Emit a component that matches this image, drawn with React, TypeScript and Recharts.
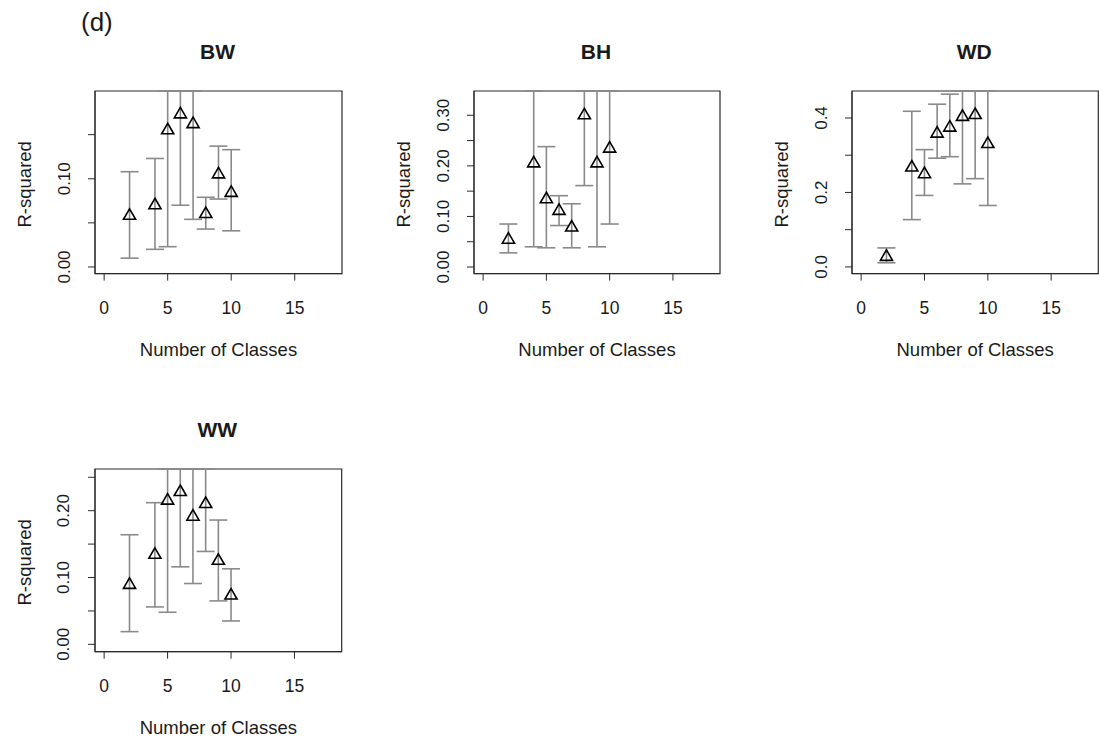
import React from 'react';
import { ScatterChart, Scatter, XAxis, YAxis, ErrorBar, ReferenceArea } from 'recharts';

// ---------- data ----------
const classes = [2, 4, 5, 6, 7, 8, 9, 10];

const bwEst = [0.058, 0.07, 0.155, 0.173, 0.162, 0.06, 0.105, 0.084];
const bwLo = [0.01, 0.02, 0.023, 0.07, 0.054, 0.043, 0.077, 0.041];
const bwHi = [0.108, 0.123, 0.29, 0.28, 0.27, 0.079, 0.137, 0.133];

const bhEst = [0.054, 0.205, 0.134, 0.111, 0.078, 0.3, 0.205, 0.234];
const bhLo = [0.028, 0.04, 0.038, 0.082, 0.038, 0.161, 0.04, 0.085];
const bhHi = [0.085, 0.38, 0.238, 0.141, 0.125, 0.45, 0.38, 0.39];

const wdEst = [0.027, 0.267, 0.249, 0.358, 0.374, 0.403, 0.408, 0.33];
const wdLo = [0.011, 0.127, 0.192, 0.292, 0.296, 0.223, 0.237, 0.165];
const wdHi = [0.051, 0.418, 0.315, 0.437, 0.464, 0.59, 0.59, 0.5];

const wwEst = [0.089, 0.134, 0.215, 0.228, 0.191, 0.21, 0.125, 0.073];
const wwLo = [0.019, 0.056, 0.048, 0.116, 0.091, 0.139, 0.065, 0.035];
const wwHi = [0.164, 0.212, 0.39, 0.34, 0.3, 0.29, 0.186, 0.113];

// ---------- ticks ----------
const xTicks = [0, 5, 10, 15];
const xDomain = [-0.72, 18.72];

const bwTicks = [0, 0.05, 0.1, 0.15];
const bwTickLabels = [0, 0.1];
const bhTicks = [0, 0.05, 0.1, 0.15, 0.2, 0.25, 0.3];
const bhTickLabels = [0, 0.1, 0.2, 0.3];
const wdTicks = [0, 0.1, 0.2, 0.3, 0.4];
const wdTickLabels = [0, 0.2, 0.4];
const wwTicks = [0, 0.05, 0.1, 0.15, 0.2, 0.25];
const wwTickLabels = [0, 0.1, 0.2];

// ---------- style ----------
const FONT = '"Liberation Sans", Arial, Helvetica, sans-serif';
const TEXT = '#1a1a1a';
const BAR = '#8a8a8a';
const FRAME = '#2a2a2a';
const LEFTW = 95;
const TOPH = 60;
const BOTH = 88;

type Box = { l: number; t: number; r: number; b: number };
type PanelDef = {
  title: string;
  est: number[];
  lo: number[];
  hi: number[];
  yDomain: number[];
  yTicks: number[];
  yTickLabels: number[];
  digits: number;
  box: Box;
  padR: number;
};

const panels: PanelDef[] = [
  { title: 'BW', est: bwEst, lo: bwLo, hi: bwHi, yDomain: [-0.0075, 0.1995], yTicks: bwTicks, yTickLabels: bwTickLabels, digits: 2, box: { l: 95, t: 90.7, r: 342, b: 273.3 }, padR: 10 },
  { title: 'BH', est: bhEst, lo: bhLo, hi: bhHi, yDomain: [-0.013, 0.348], yTicks: bhTicks, yTickLabels: bhTickLabels, digits: 2, box: { l: 474, t: 90.7, r: 720, b: 273.3 }, padR: 10 },
  { title: 'WD', est: wdEst, lo: wdLo, hi: wdHi, yDomain: [-0.018, 0.4725], yTicks: wdTicks, yTickLabels: wdTickLabels, digits: 1, box: { l: 851.7, t: 90.7, r: 1098, b: 273.3 }, padR: 1 },
  { title: 'WW', est: wwEst, lo: wwLo, hi: wwHi, yDomain: [-0.011, 0.2624], yTicks: wwTicks, yTickLabels: wwTickLabels, digits: 2, box: { l: 95, t: 469, r: 341.7, b: 651.7 }, padR: 10 },
];

const Triangle = (props: any) => {
  const { cx, cy } = props;
  if (cx == null || cy == null) return null;
  const r = 7;
  const hw = r * 0.866;
  return (
    <path
      d={`M${cx},${cy - r}L${cx + hw},${cy + r / 2}L${cx - hw},${cy + r / 2}Z`}
      fill="none"
      stroke="#000"
      strokeWidth={1.6}
    />
  );
};

const makeYTick = (labels: number[], digits: number) => (props: any) => {
  const { x, y, payload } = props;
  const v = payload.value as number;
  if (!labels.some((l) => Math.abs(l - v) < 1e-9)) return <g />;
  return (
    <text
      transform={`translate(${x - 22},${y}) rotate(-90)`}
      textAnchor="middle"
      dominantBaseline="central"
      fontFamily={FONT}
      fontSize={17}
      fill={TEXT}
    >
      {v.toFixed(digits)}
    </text>
  );
};

const XTick = (props: any) => {
  const { x, y, payload } = props;
  return (
    <text x={x} y={y + 25} textAnchor="middle" dominantBaseline="central" fontFamily={FONT} fontSize={17.5} fill={TEXT}>
      {payload.value}
    </text>
  );
};

const Panel = ({ p }: { p: PanelDef }) => {
  const pw = p.box.r - p.box.l;
  const ph = p.box.b - p.box.t;
  const W = LEFTW + pw + p.padR;
  const H = TOPH + ph + BOTH;
  const yTop = p.yDomain[1];
  const data = classes.map((k, i) => ({ k, est: p.est[i], lo: p.lo[i], hi: p.hi[i] }));
  // upper whisker is clipped at the top of the plot region (as in the original figure)
  const errKey = (d: any) => [d.est - d.lo, Math.min(d.hi, yTop) - d.est];
  return (
    <div style={{ position: 'absolute', left: p.box.l - LEFTW, top: p.box.t - TOPH, width: W, height: H }}>
      <ScatterChart width={W} height={H} margin={{ top: TOPH, right: p.padR, bottom: 0, left: 0 }}>
        <XAxis
          xAxisId="b"
          type="number"
          dataKey="k"
          domain={xDomain}
          allowDataOverflow
          ticks={xTicks}
          height={BOTH}
          tickSize={7}
          tick={XTick}
          axisLine={{ stroke: FRAME }}
          tickLine={{ stroke: FRAME }}
        />
        <YAxis
          yAxisId="l"
          type="number"
          dataKey="est"
          domain={p.yDomain}
          allowDataOverflow
          ticks={p.yTicks}
          width={LEFTW}
          tickSize={7}
          tick={makeYTick(p.yTickLabels, p.digits)}
          axisLine={{ stroke: FRAME }}
          tickLine={{ stroke: FRAME }}
        />
        <ReferenceArea
          xAxisId="b"
          yAxisId="l"
          x1={xDomain[0]}
          x2={xDomain[1]}
          y1={p.yDomain[0]}
          y2={p.yDomain[1]}
          fill="none"
          fillOpacity={0}
          stroke={FRAME}
          strokeWidth={1.2}
          ifOverflow="visible"
        />
        <Scatter xAxisId="b" yAxisId="l" data={data} dataKey="est" shape={Triangle} isAnimationActive={false}>
          <ErrorBar dataKey={errKey} direction="y" width={9} stroke={BAR} strokeWidth={1.6} isAnimationActive={false} />
        </Scatter>
      </ScatterChart>
      <svg width={W} height={H} style={{ position: 'absolute', left: 0, top: 0, pointerEvents: 'none' }}>
        <text x={LEFTW + pw / 2 - 1} y={TOPH - 40} textAnchor="middle" dominantBaseline="central" fontFamily={FONT} fontWeight="bold" fontSize={21} fill={TEXT}>
          {p.title}
        </text>
        <text x={LEFTW + pw / 2} y={TOPH + ph + 76} textAnchor="middle" dominantBaseline="central" fontFamily={FONT} fontSize={18.5} fill={TEXT}>
          Number of Classes
        </text>
        <text
          transform={`translate(${LEFTW - 70.5},${TOPH + ph / 2 + 2}) rotate(-90)`}
          textAnchor="middle"
          dominantBaseline="central"
          fontFamily={FONT}
          fontSize={18.5}
          fill={TEXT}
        >
          R-squared
        </text>
      </svg>
    </div>
  );
};

export default function App() {
  return (
    <div style={{ position: 'absolute', left: 0, top: 0, width: 1099, height: 742, overflow: 'hidden', background: '#fff' }}>
      <svg width={140} height={45} style={{ position: 'absolute', left: 0, top: 0 }}>
        <text x={81} y={31} fontFamily={FONT} fontSize={26} fill={TEXT}>
          (d)
        </text>
      </svg>
      {panels.map((p) => (
        <Panel key={p.title} p={p} />
      ))}
    </div>
  );
}
